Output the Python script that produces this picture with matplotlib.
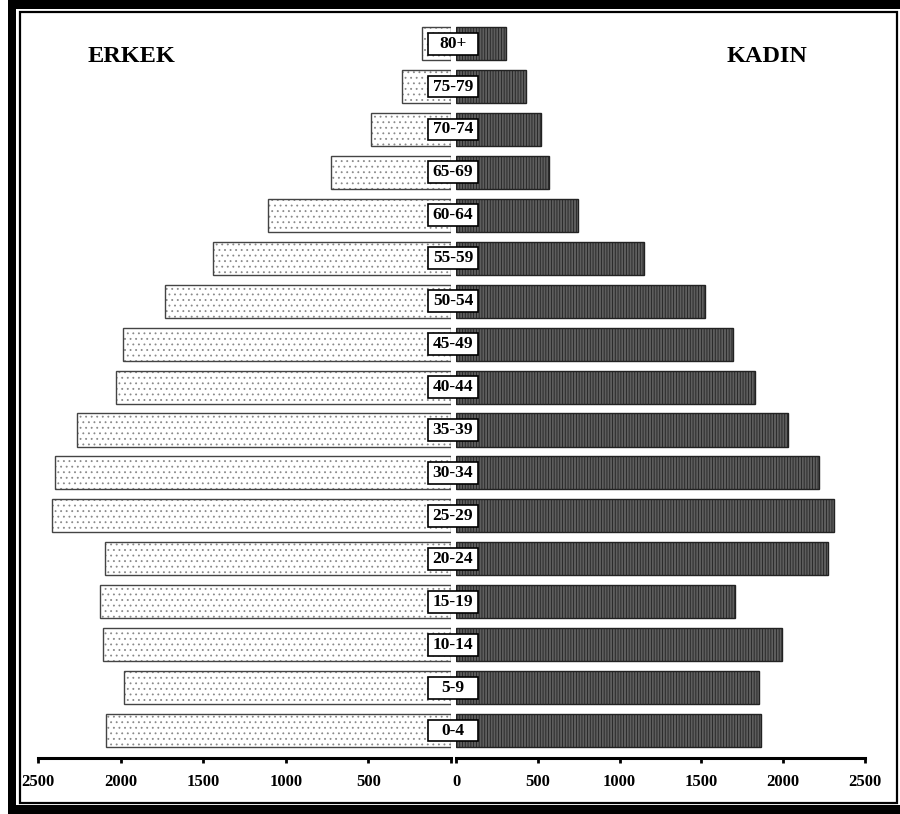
import matplotlib
matplotlib.use('Agg')
import matplotlib.pyplot as plt
import matplotlib.transforms as mtransforms
from matplotlib.patches import Rectangle

# Nüfus piramidi verileri (yaş grupları aşağıdan yukarıya)
yas_gruplari = ['0-4', '5-9', '10-14', '15-19', '20-24', '25-29', '30-34', '35-39',
                '40-44', '45-49', '50-54', '55-59', '60-64', '65-69', '70-74', '75-79', '80+']
erkek = [2088, 1979, 2107, 2125, 2094, 2415, 2397, 2264,
         2028, 1985, 1731, 1441, 1108, 726, 484, 297, 176]
kadin = [1864, 1852, 1993, 1705, 2274, 2311, 2219, 2029,
         1828, 1693, 1522, 1149, 746, 569, 520, 428, 306]

tik_degerleri = [0, 500, 1000, 1500, 2000, 2500]
sol_etiketler = ['', '500', '1000', '1500', '2000', '2500']
sag_etiketler = ['0', '500', '1000', '1500', '2000', '2500']

plt.rcParams['font.family'] = 'Liberation Serif'
plt.rcParams['font.weight'] = 'bold'
plt.rcParams['hatch.linewidth'] = 0.6

W, H = 900, 814
fig = plt.figure(figsize=(W / 100, H / 100), dpi=100)


def px(x0, y0, x1, y1):
    # piksel koordinatlarını figür oranına çevir
    return [x0 / W, 1 - y1 / H, (x1 - x0) / W, (y1 - y0) / H]


axL = fig.add_axes(px(38, 20, 451, 758))
axR = fig.add_axes(px(456, 20, 865, 758))

y = list(range(len(yas_gruplari)))
# erkek: beyaz zemin üzerinde seyrek noktalar, ayrı çizilmiş kenar
axL.barh(y, erkek, height=0.77, color='white', edgecolor='#8a8a8a',
         hatch='...', linewidth=0)
axL.barh(y, erkek, height=0.77, color='none', edgecolor='#444444', linewidth=1.0)
# kadın: koyu gri doku
axR.barh(y, kadin, height=0.77, color='#5e5e5e', edgecolor='#222222',
         hatch='||||||', linewidth=1.0)

axL.set_xlim(2500, 0)
axR.set_xlim(0, 2500)
for ax, etiketler in ((axL, sol_etiketler), (axR, sag_etiketler)):
    ax.set_ylim(-0.64, 16.55)
    ax.set_yticks([])
    for s in ('top', 'left', 'right'):
        ax.spines[s].set_visible(False)
    ax.spines['bottom'].set_linewidth(2.2)
    ax.set_xticks(tik_degerleri)
    ax.set_xticklabels(etiketler)
    ax.tick_params(axis='x', direction='out', length=3.5, width=2,
                   labelsize=12, pad=8)
    for t in ax.get_xticklabels():
        t.set_fontweight('bold')
    ax.patch.set_visible(False)

# Yaş grubu etiket kutuları (sabit genişlik, iki eksenin ortasında)
tr = mtransforms.blended_transform_factory(fig.transFigure, axL.transData)
for i, g in enumerate(yas_gruplari):
    kutu = Rectangle((428 / W, i - 0.255), 50 / W, 0.51, transform=tr,
                     facecolor='white', edgecolor='black', linewidth=1.2,
                     zorder=5, clip_on=False)
    fig.add_artist(kutu)
    fig.text(453 / W, i, g, transform=tr, ha='center', va='center',
             fontsize=12.5, fontweight='bold', zorder=6)

fig.text(131 / W, 1 - 57 / H, 'ERKEK', ha='center', va='center',
         fontsize=17.5, fontweight='bold')
fig.text(767 / W, 1 - 57 / H, 'KADIN', ha='center', va='center',
         fontsize=17.5, fontweight='bold')

# Çerçeve
for r in (px(8, 0, 900, 9), px(8, 0, 16, 814), px(8, 805, 900, 814)):
    fig.add_artist(Rectangle(r[:2], r[2], r[3], transform=fig.transFigure,
                             facecolor='black', edgecolor='none'))
r = px(19.5, 11.5, 897, 803)
fig.add_artist(Rectangle(r[:2], r[2], r[3], transform=fig.transFigure,
                         facecolor='none', edgecolor='black', linewidth=1.6))

plt.savefig('out.png', dpi=100)
plt.close()
